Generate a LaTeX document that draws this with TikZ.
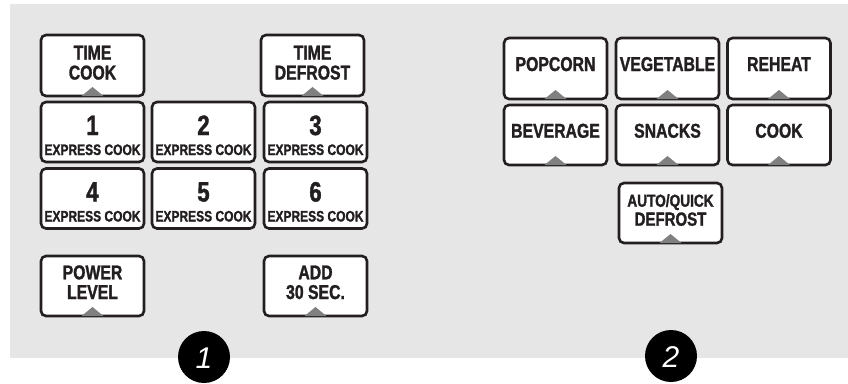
\documentclass[tikz,border=0pt]{standalone}
\usepackage{fontspec}
\newfontfamily\cond{Liberation Sans}[FakeStretch=0.79, BoldFeatures={FakeBold=1.4}]
\newfontfamily\hand{Liberation Sans}
\definecolor{bggray}{HTML}{E6E6E6}
\definecolor{keyline}{HTML}{231F20}
\definecolor{trigray}{HTML}{808080}
\newcommand{\trimark}[1]{\fill[trigray] (#1.south) ++(-11,-1.3) -- ++(11,-9) -- ++(11,9) -- cycle;}
\begin{document}
\begin{tikzpicture}[x=1pt,y=-1pt,
  keybox/.style={draw=keyline, line width=2.6pt, rounded corners=5pt, fill=white,
    minimum width=103pt, minimum height=61pt, inner sep=0pt},
  lbl/.style={anchor=base, inner sep=0pt, text=keyline, font=\cond\bfseries\fontsize{20}{20}\selectfont},
  dig/.style={anchor=base, inner sep=0pt, text=keyline, font=\cond\bfseries\fontsize{28}{28}\selectfont},
  exc/.style={anchor=base, inner sep=0pt, text=keyline, font=\cond\bfseries\fontsize{15.2}{15}\selectfont},
  badge/.style={circle, fill=black, minimum size=52pt, inner sep=0pt},
  badgenum/.style={anchor=base, inner sep=0pt, text=white, font=\hand\itshape\fontsize{30}{30}\selectfont}]
\useasboundingbox (0,0) rectangle (848,383);
\fill[white] (0,0) rectangle (848,383);
\fill[bggray] (10,4) rectangle (848,358);

% ---- group 1 ----
\node[keybox] (tc) at (92.5,65.5) {};
\node[keybox] (td) at (312.5,65.5) {};
\node[keybox, minimum height=60pt] (k1) at (92.5,132) {};
\node[keybox, minimum height=60pt] (k2) at (203.5,132) {};
\node[keybox, minimum height=60pt] (k3) at (315.5,132) {};
\node[keybox, minimum height=60pt] (k4) at (92.5,198.5) {};
\node[keybox, minimum height=60pt] (k5) at (203.5,198.5) {};
\node[keybox, minimum height=60pt] (k6) at (315.5,198.5) {};
\node[keybox, minimum height=60pt] (pl) at (92.5,286) {};
\node[keybox, minimum height=60pt] (ad) at (315.5,286) {};
\trimark{tc}\trimark{td}\trimark{pl}\trimark{ad}

\node[lbl] (tc1) at (92.5,59.5) {TIME};
\node[lbl] (tc2) at (92.5,79.5) {COOK};
\node[lbl] (td1) at (312.5,59.5) {TIME};
\node[lbl] (td2) at (312.5,79.5) {DEFROST};

\node[dig] (d1) at (92.5,135) {1};
\node[exc] (e1) at (92.5,155) {EXPRESS COOK};
\node[dig] (d2) at (203.5,135) {2};
\node[exc] (e2) at (203.5,155) {EXPRESS COOK};
\node[dig] (d3) at (315.5,135) {3};
\node[exc] (e3) at (315.5,155) {EXPRESS COOK};
\node[dig] (d4) at (92.5,201.5) {4};
\node[exc] (e4) at (92.5,221.5) {EXPRESS COOK};
\node[dig] (d5) at (203.5,201.5) {5};
\node[exc] (e5) at (203.5,221.5) {EXPRESS COOK};
\node[dig] (d6) at (315.5,201.5) {6};
\node[exc] (e6) at (315.5,221.5) {EXPRESS COOK};

\node[lbl] (pl1) at (92.5,279.3) {POWER};
\node[lbl] (pl2) at (92.5,299) {LEVEL};
\node[lbl] (ad1) at (315.5,279.3) {ADD};
\node[lbl] (ad2) at (315.5,299) {30 SEC.};

% ---- group 2 ----
\node[keybox] (pop) at (555.5,68.5) {};
\node[keybox] (veg) at (667.5,68.5) {};
\node[keybox] (reh) at (779,68.5) {};
\node[keybox, minimum height=60pt] (bev) at (555.5,135) {};
\node[keybox, minimum height=60pt] (sna) at (667.5,135) {};
\node[keybox, minimum height=60pt] (coo) at (779,135) {};
\node[keybox, minimum height=60pt] (aqd) at (670.5,213) {};
\trimark{pop}\trimark{veg}\trimark{reh}\trimark{bev}\trimark{sna}\trimark{coo}\trimark{aqd}

\node[lbl] (popt) at (555.5,71) {POPCORN};
\node[lbl] (vegt) at (667.5,71) {VEGETABLE};
\node[lbl] (reht) at (779,71) {REHEAT};
\node[lbl] (bevt) at (555.5,137.7) {BEVERAGE};
\node[lbl] (snat) at (667.5,137.7) {SNACKS};
\node[lbl] (coot) at (779,137.7) {COOK};
\node[lbl, font=\cond\bfseries\fontsize{17.3}{17}\selectfont] (aqd1) at (670.5,206.7) {AUTO/QUICK};
\node[lbl, font=\cond\bfseries\fontsize{19}{19}\selectfont] (aqd2) at (670.5,225.7) {DEFROST};

% ---- badges ----
\node[badge] (b1) at (204,357) {};
\node[badgenum] (b1t) at (204,368) {1};
\node[badge] (b2) at (671,356) {};
\node[badgenum] (b2t) at (671,367) {2};
\end{tikzpicture}
\end{document}
